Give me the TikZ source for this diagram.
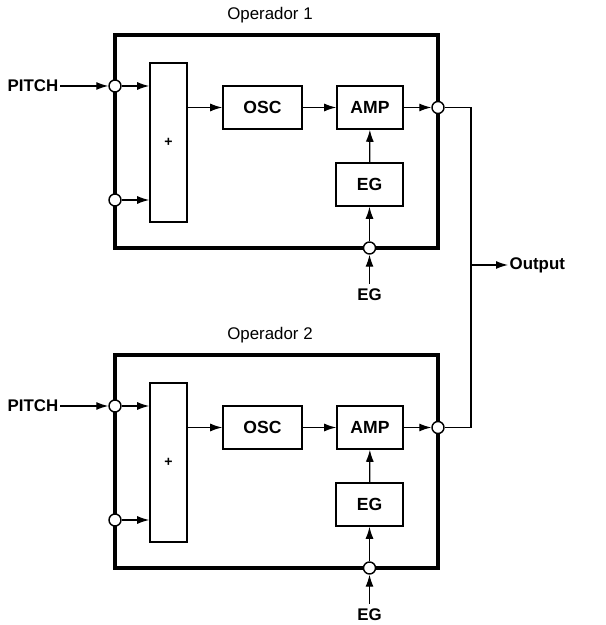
\documentclass[tikz,border=0pt]{standalone}
\usepackage{fontspec}
\setsansfont{Liberation Sans}
\usepackage{tikz}
\usetikzlibrary{positioning,arrows.meta}

\begin{document}
\begin{tikzpicture}[x=1cm,y=1cm,font=\sffamily\fontsize{12}{14}\selectfont,>={Latex[length=3mm,width=2mm]},
  opbox/.style={draw,line width=2.2pt,minimum width=8.075cm,minimum height=5.325cm,inner sep=0pt},
  blk/.style  ={draw,line width=1.1pt,minimum height=1.075cm,inner sep=0pt,font=\sffamily\bfseries\fontsize{12.5}{14}\selectfont},
  sumbox/.style={draw,line width=1.1pt,minimum width=0.925cm,minimum height=3.975cm,inner sep=0pt,font=\sffamily\bfseries},
  port/.style ={draw,circle,line width=1pt,fill=white,minimum size=0.3cm,inner sep=0pt},
  lbl/.style  ={font=\sffamily\bfseries\fontsize{12}{14}\selectfont},
  flow/.style ={->,line width=0.9pt},
  wire/.style ={line width=0.9pt}]
\useasboundingbox (0,0) rectangle (15.125,15.625);
% Operador 1
\node[opbox] (op1) at (6.9125,12.0875) {};
\node (tit1) at (6.75,15.25) {Operador 1};
\node[sumbox] (sum1) at (4.2125,12.0625) {+};
\node[blk,minimum width=1.975cm] (osc1) at (6.5625,12.9375) {OSC};
\node[blk,minimum width=1.65cm]  (amp1) at (9.25,12.9375) {AMP};
\node[blk,minimum width=1.675cm] (eg1)  at (9.2375,11.0125) {EG};
\node[port] (pa1) at (2.875,13.475) {};
\node[port] (pb1) at (2.875,10.625) {};
\node[port] (out1) at (10.95,12.9375) {};
\node[port] (pe1) at (9.2375,9.425) {};
\node[lbl,anchor=east,inner sep=1pt] (pitch1) at (1.5,13.475) {PITCH};
\node[lbl] (egin1) at (9.2375,8.25) {EG};
\draw[flow] (pitch1) -- (pa1);
\draw[flow] (pa1) -- (pa1 -| sum1.west);
\draw[flow] (pb1) -- (pb1 -| sum1.west);
\draw[flow] (osc1.west -| sum1.east) -- (osc1);
\draw[flow] (osc1) -- (amp1);
\draw[flow] (amp1) -- (out1);
\draw[flow] (eg1) -- (amp1);
\draw[flow] (pe1) -- (eg1);
\draw[flow] (egin1) -- (pe1);
% Operador 2
\node[opbox] (op2) at (6.9125,4.0875) {};
\node (tit2) at (6.75,7.25) {Operador 2};
\node[sumbox] (sum2) at (4.2125,4.0625) {+};
\node[blk,minimum width=1.975cm] (osc2) at (6.5625,4.9375) {OSC};
\node[blk,minimum width=1.65cm]  (amp2) at (9.25,4.9375) {AMP};
\node[blk,minimum width=1.675cm] (eg2)  at (9.2375,3.0125) {EG};
\node[port] (pa2) at (2.875,5.475) {};
\node[port] (pb2) at (2.875,2.625) {};
\node[port] (out2) at (10.95,4.9375) {};
\node[port] (pe2) at (9.2375,1.425) {};
\node[lbl,anchor=east,inner sep=1pt] (pitch2) at (1.5,5.475) {PITCH};
\node[lbl] (egin2) at (9.2375,0.25) {EG};
\draw[flow] (pitch2) -- (pa2);
\draw[flow] (pa2) -- (pa2 -| sum2.west);
\draw[flow] (pb2) -- (pb2 -| sum2.west);
\draw[flow] (osc2.west -| sum2.east) -- (osc2);
\draw[flow] (osc2) -- (amp2);
\draw[flow] (amp2) -- (out2);
\draw[flow] (eg2) -- (amp2);
\draw[flow] (pe2) -- (eg2);
\draw[flow] (egin2) -- (pe2);
% salida
\coordinate (bus) at (11.775,9.0);
\node[lbl,anchor=west,inner sep=1pt] (outlbl) at (12.7,9.0) {Output};
\draw[wire] (out1) -| (bus) |- (out2);
\draw[flow] (bus) -- (outlbl);
\end{tikzpicture}
\end{document}
